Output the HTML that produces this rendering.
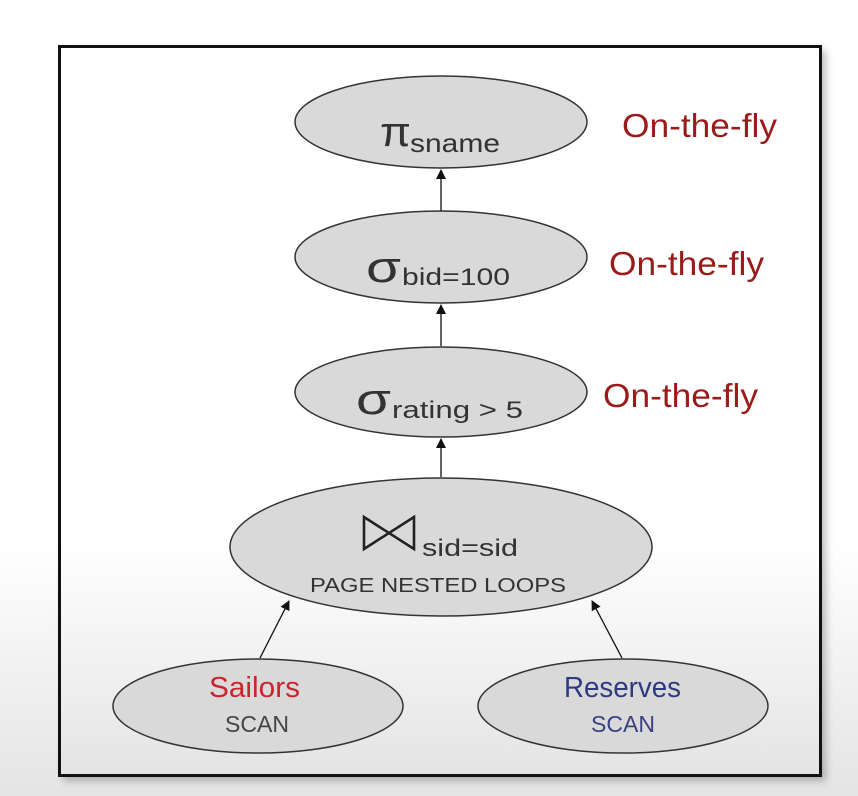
<!DOCTYPE html>
<html><head><meta charset="utf-8"><style>
html,body{margin:0;padding:0;width:858px;height:796px;overflow:hidden;background:#fff}
svg{display:block}
text{font-family:"Liberation Sans",sans-serif}
</style></head><body>
<svg width="858" height="796" viewBox="0 0 858 796" xmlns="http://www.w3.org/2000/svg">
<defs>
<linearGradient id="bg" x1="0" y1="0" x2="0" y2="1">
<stop offset="0" stop-color="#ffffff"/>
<stop offset="0.68" stop-color="#ffffff"/>
<stop offset="1" stop-color="#e4e4e4"/>
</linearGradient>
<filter id="sh" x="-5%" y="-5%" width="115%" height="115%"><feGaussianBlur stdDeviation="4"/></filter>
<marker id="ar" markerWidth="12" markerHeight="12" refX="9" refY="5" orient="auto" markerUnits="userSpaceOnUse">
<path d="M0,0 L10,5 L0,10 z" fill="#111"/></marker>
</defs>
<rect width="858" height="796" fill="url(#bg)"/>
<rect x="63" y="50" width="763" height="731" fill="#000" opacity="0.25" filter="url(#sh)"/>
<rect x="59.5" y="46.5" width="761" height="729" fill="url(#bg)" stroke="#111" stroke-width="3"/>

<g fill="#d9d9d9" stroke="#333" stroke-width="1.5">
<ellipse cx="441" cy="122" rx="146" ry="46"/>
<ellipse cx="441" cy="257" rx="146" ry="46"/>
<ellipse cx="441" cy="392" rx="146" ry="45"/>
<ellipse cx="441" cy="547" rx="211" ry="69"/>
<ellipse cx="258" cy="706" rx="145" ry="47"/>
<ellipse cx="623" cy="706" rx="145" ry="47"/>
</g>
<g stroke="#111" stroke-width="1.3" marker-end="url(#ar)">
<line x1="441" y1="211" x2="441" y2="170"/>
<line x1="441" y1="346" x2="441" y2="305"/>
<line x1="441" y1="477" x2="441" y2="439"/>
<line x1="260" y1="658" x2="289" y2="601"/>
<line x1="622" y1="658" x2="592" y2="601"/>
</g>

<g fill="#333">
<text x="380" y="146" font-size="42" font-family="Liberation Serif,serif" textLength="31" lengthAdjust="spacingAndGlyphs">π</text>
<text x="410" y="152" font-size="26" textLength="90" lengthAdjust="spacingAndGlyphs">sname</text>
<text x="366" y="282" font-size="44" font-family="Liberation Serif,serif" textLength="35" lengthAdjust="spacingAndGlyphs">σ</text>
<text x="402" y="285" font-size="24" textLength="108" lengthAdjust="spacingAndGlyphs">bid=100</text>
<text x="356" y="414" font-size="44" font-family="Liberation Serif,serif" textLength="35" lengthAdjust="spacingAndGlyphs">σ</text>
<text x="392" y="418" font-size="24" textLength="131" lengthAdjust="spacingAndGlyphs">rating &gt; 5</text>
<text x="422" y="556" font-size="24" textLength="96" lengthAdjust="spacingAndGlyphs">sid=sid</text>
<text x="310" y="592" font-size="20" textLength="256" lengthAdjust="spacingAndGlyphs">PAGE NESTED LOOPS</text>
<text x="225" y="732" font-size="23" textLength="64" lengthAdjust="spacingAndGlyphs" fill="#444">SCAN</text>
<text x="591" y="732" font-size="23" textLength="64" lengthAdjust="spacingAndGlyphs" fill="#3a4080">SCAN</text>
</g>
<path d="M364,517 L364,549 L414,517 L414,549 Z" fill="none" stroke="#222" stroke-width="2.6" stroke-linejoin="miter"/>
<text x="209" y="697" font-size="29" textLength="91" lengthAdjust="spacingAndGlyphs" fill="#c8252e">Sailors</text>
<text x="564" y="697" font-size="29" textLength="117" lengthAdjust="spacingAndGlyphs" fill="#2e3a80">Reserves</text>

<g fill="#9b1b1b" font-size="33">
<text x="622" y="137" textLength="155" lengthAdjust="spacingAndGlyphs">On-the-fly</text>
<text x="609" y="275" textLength="155" lengthAdjust="spacingAndGlyphs">On-the-fly</text>
<text x="603" y="407" textLength="155" lengthAdjust="spacingAndGlyphs">On-the-fly</text>
</g>
</svg>
</body></html>
